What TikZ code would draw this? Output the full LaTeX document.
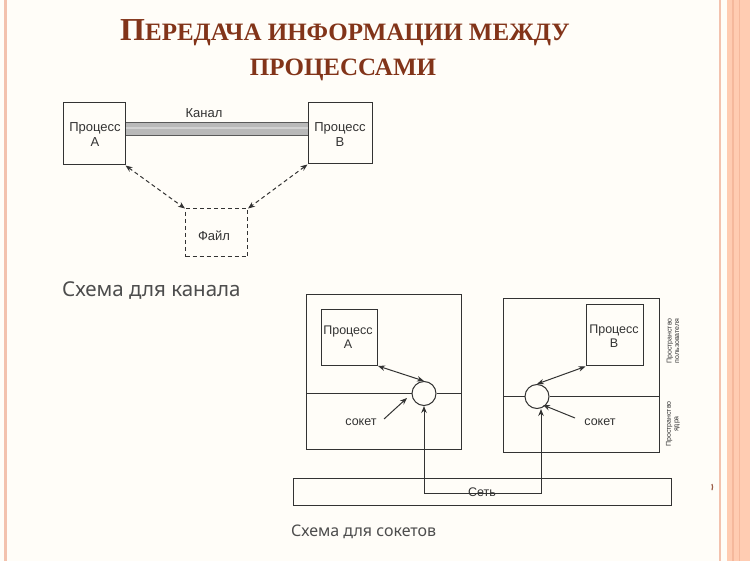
\documentclass[tikz,border=0pt]{standalone}
\usepackage{fontspec}
\setmainfont{Liberation Sans}
\newfontfamily\titlefont{Liberation Serif}
\newfontfamily\capfont{Noto Sans}
\usetikzlibrary{arrows.meta}
\definecolor{bg}{HTML}{FFFDF8}
\definecolor{edge}{HTML}{F3C2AE}
\definecolor{band}{HTML}{FFCCB2}
\definecolor{bandline}{HTML}{F5B89C}
\definecolor{titlec}{HTML}{823419}
\definecolor{capc}{HTML}{4D4D4D}
\definecolor{ln}{HTML}{333333}
\tikzset{
  box/.style={draw=ln, line width=1pt, fill=none, inner sep=0pt},
  lbl/.style={font=\fontsize{13}{15}\selectfont, text=ln, align=center, inner sep=0pt},
  slbl/.style={font=\fontsize{12.5}{14.5}\selectfont, text=ln, align=center, inner sep=0pt},
  dasharrow/.style={draw=ln, dash pattern=on 4pt off 3pt, line width=1pt, {Stealth[length=7pt,width=5.5pt]}-{Stealth[length=7pt,width=5.5pt]}},
  dblarrow/.style={draw=ln, line width=1pt, {Stealth[length=7pt,width=5.5pt]}-{Stealth[length=7pt,width=5.5pt]}},
  onearrow/.style={draw=ln, line width=1pt, -{Stealth[length=7pt,width=5.5pt]}},
  caption/.style={font=\capfont\fontsize{20.5}{22}\selectfont, text=capc, anchor=base west, inner sep=0pt},
  titletext/.style={font=\titlefont\bfseries\fontsize{25}{28}\selectfont, text=titlec, anchor=base, inner sep=0pt},
  tiny/.style={font=\fontsize{7}{7.5}\selectfont, text=ln, align=center, inner sep=0pt, rotate=90}
}
\begin{document}
\begin{tikzpicture}[x=1pt,y=-1pt]
\useasboundingbox (0,0) rectangle (750,561);
\fill[bg] (0,0) rectangle (750,561);
% page decoration
\fill[edge] (4,0) rectangle (6.5,561);
\fill[edge] (718.5,0) rectangle (721,561);
\fill[band] (727,0) rectangle (750,561);
\fill[bandline] (732,0) rectangle (734,561);
\fill[bandline] (739,0) rectangle (740,561);
\draw[line width=1.2pt, draw=titlec!80] (712,484) arc[start angle=-20, end angle=20, radius=9];

% title
\node[titletext] (t1) at (345,41) {{\fontsize{32}{32}\selectfont П}ЕРЕДАЧА ИНФОРМАЦИИ МЕЖДУ};
\node[titletext] (t2) at (343,76) {ПРОЦЕССАМИ};

% ---- channel scheme ----
\node[box, minimum width=62pt, minimum height=62pt] (pa) at (94,134) {};
\node[lbl] (pal) at (95,135) {Процесс\\А};
\node[box, minimum width=64pt, minimum height=61pt] (pb) at (340,133.5) {};
\node[lbl] (pbl) at (340,135) {Процесс\\В};
\fill[gray!55] (pa.east |- 0,122) rectangle (pb.west |- 0,135);
\draw[gray!70!black, line width=0.7pt] (pa.east |- 0,122) -- (pb.west |- 0,122);
\draw[gray!70!black, line width=0.7pt] (pa.east |- 0,135) -- (pb.west |- 0,135);
\draw[gray!35, line width=2pt] (pa.east |- 0,128.5) -- (pb.west |- 0,128.5);
\node[lbl] (kan) at (204,113) {Канал};
\node[box, dash pattern=on 4pt off 3pt, minimum width=62pt, minimum height=48pt] (file) at (216.5,233) {};
\node[lbl] (filel) at (214,236) {Файл};
\draw[dasharrow] (pa.south east) -- (file.north west);
\draw[dasharrow] (pb.south west) -- (file.north east);
\node[caption] (cap1) at (62,297) {Схема для канала};

% ---- socket scheme ----
\draw[box] (306.5,294.5) rectangle (461.5,449.5);
\coordinate (hl1) at (306.5,393.5);
\coordinate (hr1) at (461.5,393.5);
\node[box, minimum width=56pt, minimum height=56pt] (ipa) at (349.5,337.5) {};
\node[slbl] (ipal) at (348,337) {Процесс\\А};
\node[circle, draw=ln, line width=1pt, fill=bg, minimum size=24pt, inner sep=0pt] (sa) at (424,393.5) {};
\draw[draw=ln, line width=1pt] (hl1) -- (sa.west);
\draw[draw=ln, line width=1pt] (sa.east) -- (hr1);

\draw[box] (503.5,298.5) rectangle (659.5,452.5);
\coordinate (hl2) at (503.5,396.5);
\coordinate (hr2) at (659.5,396.5);
\node[box, minimum width=57pt, minimum height=61pt] (ipb) at (614.5,335.5) {};
\node[slbl] (ipbl) at (614,336) {Процесс\\В};
\node[circle, draw=ln, line width=1pt, fill=bg, minimum size=24pt, inner sep=0pt] (sb) at (537,396.5) {};
\draw[draw=ln, line width=1pt] (hl2) -- (sb.west);
\draw[draw=ln, line width=1pt] (sb.east) -- (hr2);

\draw[dblarrow] (ipa.south east) -- (sa.north);
\draw[dblarrow] (ipb.south west) -- (sb.north);

\node[slbl] (soka) at (361,422) {сокет};
\coordinate (sa0) at (384,419);
\draw[onearrow] (sa0) -- (407,398);
\node[slbl] (sokb) at (600,422) {сокет};
\coordinate (sb0) at (575,418);
\draw[onearrow] (sb0) -- (543,405);

\node[tiny] (ups) at (673,341) {Пространство\\пользователя};
\node[tiny] (kps) at (673,424) {Пространство\\ядра};

\node[box, minimum width=378pt, minimum height=27pt] (net) at (482,491.5) {};
\node[slbl] (netl) at (482,492) {Сеть};
\coordinate (na) at (424,493.5);
\coordinate (nb) at (541,493.5);
\draw[onearrow] (na) -- (sa.south);
\draw[draw=ln, line width=1pt] (na) -- (nb);
\draw[onearrow] (nb) -- (sb.south -| nb);
\node[caption, font=\capfont\fontsize{16}{18}\selectfont] (cap2) at (291,536) {Схема для сокетов};
\end{tikzpicture}
\end{document}
